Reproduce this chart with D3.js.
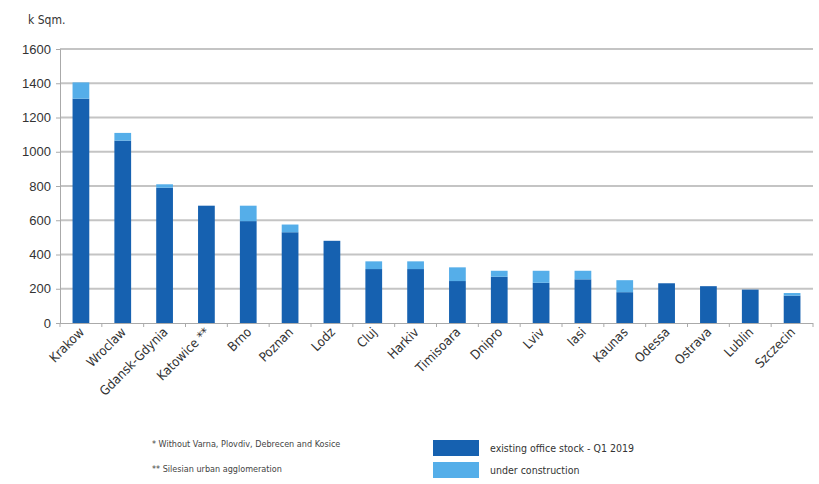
<!DOCTYPE html>
<html><head><meta charset="utf-8">
<script src="https://cdn.jsdelivr.net/npm/d3@7"></script>
<style>
body{margin:0;background:#fff;}
svg{display:block;font-family:"DejaVu Sans Condensed","Liberation Sans Narrow","Liberation Sans",sans-serif;}
</style></head><body>
<svg id="c" width="819" height="484"></svg>
<script>
const categories=["Krakow","Wroclaw","Gdansk-Gdynia","Katowice **","Brno","Poznan","Lodz","Cluj","Harkiv","Timisoara","Dnipro","Lviv","Iasi","Kaunas","Odessa","Ostrava","Lublin","Szczecin"];
const existing=[1310,1065,790,685,595,530,480,315,315,245,270,235,255,180,232,215,195,160];
const underConstruction=[95,45,20,0,90,45,0,45,45,80,35,70,50,70,0,0,0,15];
const yTicks=[0,200,400,600,800,1000,1200,1400,1600];
const seriesNames=["existing office stock - Q1 2019","under construction"];
const colors=["#1661b0","#55aee9"];

const svg=d3.select("#c");
const m={l:60,r:813,t:49,b:323};
const x=d3.scaleBand().domain(categories).range([m.l,m.r]).paddingInner(0.6).paddingOuter(0.3);
const y=d3.scaleLinear().domain([0,1600]).range([m.b,m.t]);

// gridlines
svg.append("g").selectAll("line").data(yTicks.filter(d=>d>0)).join("line")
 .attr("x1",m.l).attr("x2",m.r).attr("y1",d=>y(d)).attr("y2",d=>y(d))
 .attr("stroke","#c4c4c4").attr("stroke-width",2);

// y axis
const ya=svg.append("g").attr("transform",`translate(${m.l},0)`)
 .call(d3.axisLeft(y).tickValues(yTicks).tickSize(4).tickPadding(5).tickFormat(d3.format("d")));
ya.select(".domain").attr("stroke","#aaa");
ya.selectAll(".tick line").attr("stroke","#aaa");
ya.selectAll("text").attr("font-size",13).attr("fill","#333");

// bars
const data=categories.map((c,i)=>({c,e:existing[i],u:underConstruction[i]}));
const g=svg.append("g");
g.selectAll("rect.e").data(data).join("rect").attr("class","e")
 .attr("x",d=>x(d.c)).attr("width",x.bandwidth())
 .attr("y",d=>y(d.e)).attr("height",d=>y(0)-y(d.e)).attr("fill",colors[0]);
g.selectAll("rect.u").data(data.filter(d=>d.u>0)).join("rect").attr("class","u")
 .attr("x",d=>x(d.c)).attr("width",x.bandwidth())
 .attr("y",d=>y(d.e+d.u)).attr("height",d=>y(d.e)-y(d.e+d.u)).attr("fill",colors[1]);

// x axis
const step=x.step();
svg.append("line").attr("x1",m.l).attr("x2",m.r).attr("y1",y(0)+0.5).attr("y2",y(0)+0.5).attr("stroke","#aaa");
svg.append("g").selectAll("line").data(d3.range(categories.length+1)).join("line")
 .attr("x1",i=>m.l+i*step).attr("x2",i=>m.l+i*step).attr("y1",y(0)).attr("y2",y(0)+4).attr("stroke","#aaa");
svg.append("g").selectAll("text").data(categories).join("text")
 .attr("transform",d=>`translate(${x(d)+x.bandwidth()/2+4},${y(0)+10}) rotate(-45)`)
 .attr("text-anchor","end").attr("font-size",13).attr("fill","#333").text(d=>d);

// unit label
svg.append("text").attr("x",28).attr("y",24).attr("font-size",12).attr("fill","#333").text("k Sqm.");

// footnotes
svg.append("text").attr("x",152).attr("y",447).attr("font-size",9).attr("fill","#444").text("*  Without Varna, Plovdiv, Debrecen and Kosice");
svg.append("text").attr("x",152).attr("y",472).attr("font-size",9).attr("fill","#444").text("** Silesian urban agglomeration");

// legend
const lg=svg.append("g");
seriesNames.forEach((s,i)=>{
 lg.append("rect").attr("x",433).attr("y",440+i*22).attr("width",46).attr("height",16).attr("fill",colors[i]);
 lg.append("text").attr("x",490).attr("y",452+i*22).attr("font-size",10.5).attr("fill","#333").text(s);
});
</script></body></html>
